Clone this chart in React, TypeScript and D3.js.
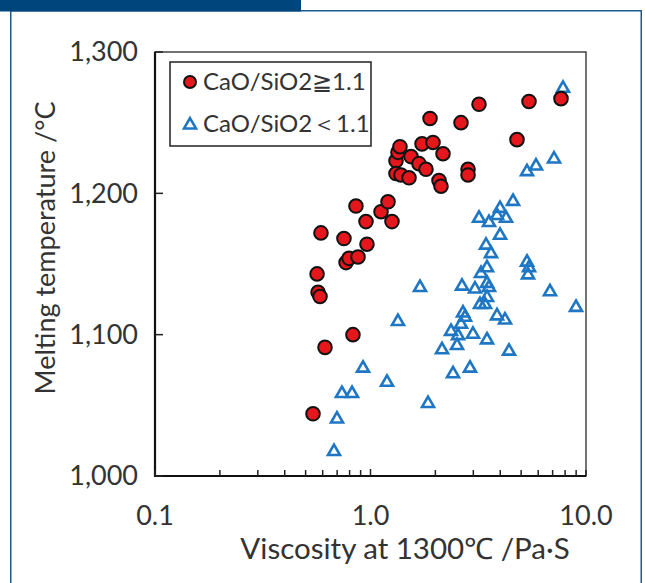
import React from "react";
import * as d3 from "d3";

// ---- data (viscosity Pa·s, melting temperature °C) ----
const highViscosity = [0.541,0.565,0.571,0.583,0.589,0.615,0.753,0.770,0.795,0.829,0.856,0.875,0.953,0.963,1.119,1.206,1.258,1.313,1.341,1.370,1.313,1.385,1.509,1.541,1.679,1.809,1.734,1.950,2.170,1.889,2.079,2.124,2.630,2.835,2.835,3.188,4.784,5.439,7.656];
const highTemp = [1044,1143,1130,1127,1172,1091,1168,1151,1154,1100,1191,1155,1180,1164,1187,1194,1180,1223,1229,1233,1214,1213,1211,1226,1221,1217,1235,1236,1228,1253,1209,1205,1250,1217,1213,1263,1238,1265,1267];

const lowViscosity = [7.822,7.105,5.861,5.323,4.585,3.991,3.864,4.254,3.188,3.547,3.991,3.436,3.624,5.323,5.439,5.381,3.472,3.257,3.472,3.547,3.054,2.658,1.697,6.806,3.472,3.222,3.398,8.987,2.687,2.745,3.864,4.209,1.341,2.630,2.364,2.547,2.989,3.472,2.520,2.147,4.392,2.895,2.415,1.193,1.849,0.923,0.737,0.821,0.699,0.677];
const lowTemp = [1275,1225,1220,1216,1195,1190,1185,1183,1183,1180,1171,1164,1158,1152,1148,1143,1148,1144,1137,1134,1133,1135,1134,1131,1127,1122,1122,1120,1116,1113,1114,1111,1110,1108,1103,1100,1101,1097,1093,1090,1089,1077,1073,1067,1052,1077,1059,1059,1041,1018];

const xTickValues = [0.1, 1, 10];
const xTickLabels = ["0.1", "1.0", "10.0"];
const yTickValues = [1000, 1100, 1200, 1300];
const yTickLabels = ["1,000", "1,100", "1,200", "1,300"];
const legendLabels = ["CaO/SiO2≧1.1", "CaO/SiO2＜1.1"];
const xTitle = "Viscosity at 1300℃ /Pa·S";
const yTitle = "Melting temperature /°C";

const W = 645, H = 583;
const L = 155, R = 586, T = 52, B = 476;
const FONT = "Lato, 'Open Sans', sans-serif";
const TXT = "#333";

export default function App() {
  const x = d3.scaleLog().domain([0.1, 10]).range([L, R]);
  const y = d3.scaleLinear().domain([1000, 1300]).range([B, T]);
  const minor = x.ticks();
  const tri = d3.symbol().type(d3.symbolTriangle).size(62)()!;

  return (
    <svg width={W} height={H} style={{ position: "absolute", left: 0, top: 0, background: "#fff" }}>
      <rect x={0} y={0} width={W} height={H} fill="#fff" />
      {/* frame */}
      <rect x={10.75} y={10.75} width={630.5} height={600} fill="none" stroke="#1c5a8c" strokeWidth={1.5} />
      <rect x={0} y={0} width={301} height={11.5} fill="#00467c" />

      {/* plot frame */}
      <rect x={L} y={T} width={R - L} height={B - T} fill="none" stroke="#444" strokeWidth={1.5} />
      <line x1={L} y1={T} x2={L} y2={B + 1} stroke="#111" strokeWidth={2.2} />
      <line x1={L - 1} y1={B} x2={R} y2={B} stroke="#111" strokeWidth={2.2} />

      {/* x ticks */}
      {minor.map((v, i) => (
        <line key={"xt" + i} x1={x(v)} x2={x(v)} y1={B} y2={B - (v === 1 ? 7 : 6)} stroke="#222" strokeWidth={1.5} />
      ))}
      {/* y ticks */}
      {yTickValues.map((v, i) => (
        <line key={"yt" + i} x1={L} x2={L + 8} y1={y(v)} y2={y(v)} stroke="#222" strokeWidth={1.5} />
      ))}

      {/* tick labels */}
      {xTickValues.map((v, i) => (
        <text key={"xl" + i} x={x(v)} y={525} textAnchor="middle" fontFamily={FONT} fontSize={27} fill={TXT}>
          {xTickLabels[i]}
        </text>
      ))}
      {yTickValues.map((v, i) => (
        <text key={"yl" + i} x={138} y={y(v)} dy="0.35em" textAnchor="end" fontFamily={FONT} fontSize={27} fill={TXT}>
          {yTickLabels[i]}
        </text>
      ))}

      {/* axis titles */}
      <text x={405} y={559} textAnchor="middle" fontFamily={FONT} fontSize={29.5} fill={TXT}>{xTitle}</text>
      <text transform={`translate(55,248) rotate(-90)`} textAnchor="middle" fontFamily={FONT} fontSize={27} fill={TXT}>{yTitle}</text>

      {/* points: low ratio (triangles) */}
      {lowViscosity.map((v, i) => (
        <path key={"b" + i} d={tri} transform={`translate(${x(v)},${y(lowTemp[i]) + 1})`} fill="none" stroke="#1f77c4" strokeWidth={2.6} strokeLinejoin="miter" />
      ))}
      {/* points: high ratio (circles) */}
      {highViscosity.map((v, i) => (
        <circle key={"r" + i} cx={x(v)} cy={y(highTemp[i])} r={6.8} fill="#e5171d" stroke="#111" strokeWidth={2} />
      ))}

      {/* legend */}
      <rect x={170} y={62} width={201} height={84} fill="#fff" stroke="#222" strokeWidth={1.5} />
      <circle cx={190} cy={82} r={6} fill="#e5171d" stroke="#111" strokeWidth={2} />
      <text x={203} y={82} dy="0.35em" fontFamily={FONT} fontSize={24} fill={TXT}>{legendLabels[0]}</text>
      <path d={tri} transform="translate(190,125)" fill="none" stroke="#1f77c4" strokeWidth={2.6} />
      <text x={203} y={124} dy="0.35em" fontFamily={FONT} fontSize={24} fill={TXT}>{legendLabels[1]}</text>
    </svg>
  );
}
